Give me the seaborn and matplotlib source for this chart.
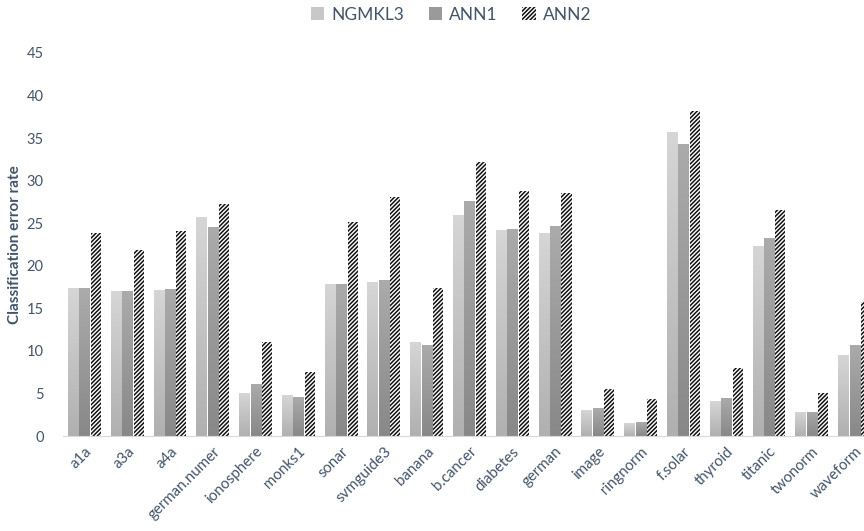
import numpy as np
import pandas as pd
import matplotlib
matplotlib.use("Agg")
import matplotlib.pyplot as plt
from matplotlib.colors import LinearSegmentedColormap
from matplotlib.patches import Patch
import seaborn as sns

categories = ["a1a", "a3a", "a4a", "german.numer", "ionosphere", "monks1", "sonar",
              "svmguide3", "banana", "b.cancer", "diabetes", "german", "image",
              "ringnorm", "f.solar", "thyroid", "titanic", "twonorm", "waveform"]
ngmkl3 = [17.36, 17.0, 17.2, 25.7, 5.1, 4.8, 17.86, 18.05, 11.05, 25.97, 24.2, 23.85,
          3.05, 1.49, 35.76, 4.11, 22.3, 2.86, 9.5]
ann1 = [17.38, 17.05, 17.25, 24.6, 6.15, 4.6, 17.82, 18.33, 10.73, 27.6, 24.28, 24.63,
        3.25, 1.64, 34.35, 4.47, 23.27, 2.86, 10.7]
ann2 = [23.8, 21.9, 24.1, 27.3, 11.1, 7.5, 25.17, 28.1, 17.35, 32.2, 28.75, 28.5,
        5.5, 4.39, 38.19, 7.95, 26.5, 5.09, 15.7]
series = ["NGMKL3", "ANN1", "ANN2"]
yticks = [0, 5, 10, 15, 20, 25, 30, 35, 40, 45]

df = pd.DataFrame({
    "dataset": categories * 3,
    "method": [s for s in series for _ in categories],
    "value": ngmkl3 + ann1 + ann2,
})

TEXT = "#44546a"
sns.set_style("white")
plt.rcParams["font.family"] = ["Lato", "DejaVu Sans"]
plt.rcParams["hatch.linewidth"] = 1.1

fig = plt.figure(figsize=(8.64, 5.31), dpi=100)
ax = fig.add_axes([63 / 864, 1 - 436 / 531, 813 / 864, 383 / 531])

sns.barplot(data=df, x="dataset", y="value", hue="method", hue_order=series,
            order=categories, palette=["#cfcfcf", "#a0a0a0", "#ffffff"],
            width=0.8, gap=0.12, legend=False, ax=ax, linewidth=0, saturation=1)

cmaps = {
    "NGMKL3": LinearSegmentedColormap.from_list("g1", ["#b0b0b0", "#d6d6d6"]),
    "ANN1": LinearSegmentedColormap.from_list("g2", ["#888888", "#ababab"]),
}
grad = np.linspace(0, 1, 256).reshape(-1, 1)
bars = list(ax.patches)
n = len(categories)
for i, p in enumerate(bars):
    s = series[i // n]
    x0, w, h = p.get_x(), p.get_width(), p.get_height()
    if s in cmaps:
        p.set_facecolor("none")
        im = ax.imshow(grad, extent=[x0, x0 + w, 0, h], origin="lower", aspect="auto",
                       cmap=cmaps[s], zorder=2)
        im.set_clip_path(p)
    else:
        p.set_facecolor("white")
        p.set_edgecolor("#111111")
        p.set_hatch("////////")
        p.set_linewidth(0)
        p.set_zorder(2)

ax.set_xlim(-0.5, n - 0.5)
ax.set_ylim(0, 45)
ax.set_yticks(yticks)
ax.set_yticklabels([str(t) for t in yticks], color=TEXT, fontsize=10.5)
ax.tick_params(axis="y", length=0, pad=14)
ax.set_xticks(range(n))
ax.set_xticklabels(categories, rotation=45, ha="right", rotation_mode="anchor",
                   color=TEXT, fontsize=10.8)
ax.tick_params(axis="x", which="major", length=0, pad=6)
ax.set_xticks(np.arange(-0.5, n, 1), minor=True)
ax.tick_params(axis="x", which="minor", length=5, color="#d9d9d9", width=1)
ax.set_xlabel("")
ax.set_ylabel("Classification error rate", color=TEXT, fontsize=11,
              fontweight="bold", labelpad=3)
for side in ["left", "right", "top"]:
    ax.spines[side].set_visible(False)
ax.spines["bottom"].set_color("#d9d9d9")
ax.grid(False)

handles = [
    Patch(facecolor="#c8c8c8", edgecolor="none"),
    Patch(facecolor="#9a9a9a", edgecolor="none"),
    Patch(facecolor="white", edgecolor="#111111", hatch="////////", linewidth=0),
]
fig.legend(handles, series, loc="center", bbox_to_anchor=(0.522, 0.972), ncol=3,
           frameon=False, fontsize=12.5, labelcolor=TEXT, handlelength=0.8,
           handleheight=0.8, handletextpad=0.4, columnspacing=1.4)

fig.savefig("out.png", dpi=100)
